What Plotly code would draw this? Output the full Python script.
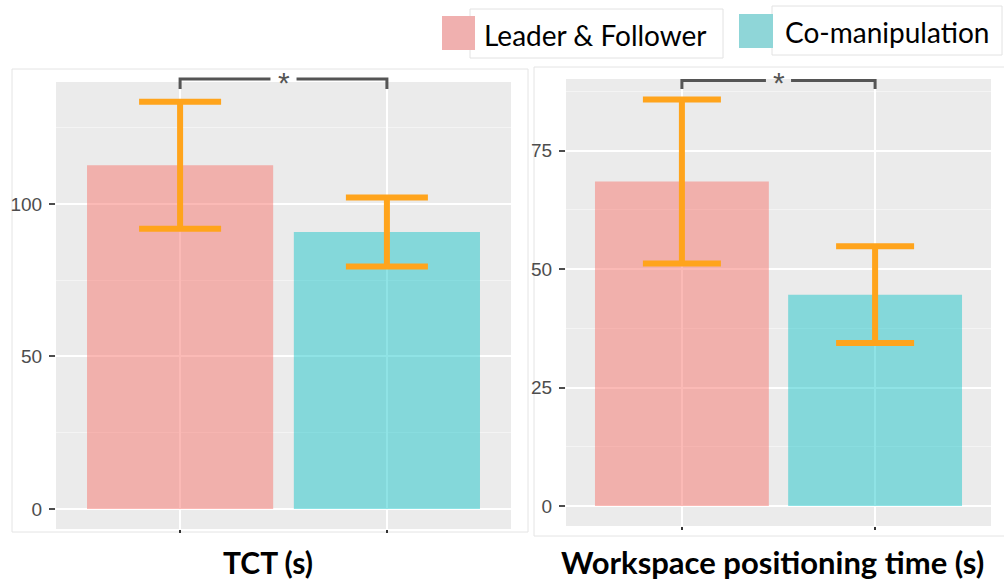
import plotly.graph_objects as go

# ---- data -------------------------------------------------------------
groups = ["Leader & Follower", "Co-manipulation"]
tct_mean = [112.7, 90.8]
tct_err = [20.8, 11.3]
wpt_mean = [68.5, 44.6]
wpt_err = [17.3, 10.2]
panel_titles = ["TCT (s)", "Workspace positioning time (s)"]
tct_ticks = [0, 50, 100]
wpt_ticks = [0, 25, 50, 75]
sig_label = "*"

# ---- style ------------------------------------------------------------
W, H = 1004, 583
bar_fill = ["rgba(248,118,109,0.5)", "rgba(0,191,196,0.44)"]
key_fill = ["#F0B0AF", "#8FD6D8"]
err_color = "#FFA41C"
panel_bg = "#EBEBEB"
tick_font = dict(family="Liberation Sans, Arial, sans-serif", size=19, color="#4D4D4D")


def px_x(v):
    return v / W


def px_y(v):
    return (H - v) / H


fig = go.Figure()

for i, g in enumerate(groups):
    fig.add_trace(go.Bar(
        x=[g], y=[tct_mean[i]], width=0.9,
        marker=dict(color=bar_fill[i], line=dict(width=0)),
        error_y=dict(type="data", array=[tct_err[i]], color=err_color,
                     thickness=6, width=41),
        xaxis="x", yaxis="y", showlegend=False,
    ))
    fig.add_trace(go.Bar(
        x=[g], y=[wpt_mean[i]], width=0.9,
        marker=dict(color=bar_fill[i], line=dict(width=0)),
        error_y=dict(type="data", array=[wpt_err[i]], color=err_color,
                     thickness=6, width=39),
        xaxis="x2", yaxis="y2", showlegend=False,
    ))


def xaxis(domain, anchor):
    return dict(
        domain=domain, anchor=anchor, type="category",
        categoryorder="array", categoryarray=groups,
        range=[-0.6, 1.6], showticklabels=False,
        ticks="outside", ticklen=3, tickwidth=2, tickcolor="#333333",
        showgrid=True, gridcolor="white", gridwidth=2,
        zeroline=False, showline=False, fixedrange=True,
    )


def yaxis(domain, anchor, rng, ticks, minor_step):
    return dict(
        domain=domain, anchor=anchor, range=rng,
        tickmode="array", tickvals=ticks, ticktext=[str(t) for t in ticks],
        ticks="outside", ticklen=6, tickwidth=2, tickcolor="#4D4D4D",
        tickfont=tick_font, ticklabelstandoff=3,
        showgrid=True, gridcolor="white", gridwidth=2,
        minor=dict(dtick=minor_step, tick0=minor_step / 2,
                   showgrid=True, gridcolor="#F4F4F4", gridwidth=1, ticks=""),
        zeroline=False, showline=False, fixedrange=True,
    )


fig.update_layout(
    width=W, height=H,
    margin=dict(l=0, r=0, t=0, b=0),
    paper_bgcolor="white", plot_bgcolor=panel_bg,
    barmode="overlay",
    xaxis=xaxis([px_x(56), px_x(511)], "y"),
    yaxis=yaxis([px_y(529), px_y(82)], "x", [-6.6, 140], tct_ticks, 50),
    xaxis2=xaxis([px_x(566), px_x(991)], "y2"),
    yaxis2=yaxis([px_y(526), px_y(79)], "x2", [-4.2, 90.1], wpt_ticks, 25),
)

shapes = []
annotations = []

# outer frames around each panel
frame_line = dict(color="#E4E4E4", width=1)
shapes.append(dict(type="rect", xref="paper", yref="paper", layer="below",
                   x0=px_x(12), x1=px_x(528), y0=px_y(532), y1=px_y(69),
                   line=frame_line, fillcolor="rgba(0,0,0,0)"))
shapes.append(dict(type="rect", xref="paper", yref="paper", layer="below",
                   x0=px_x(534), x1=px_x(1010), y0=px_y(536), y1=px_y(67),
                   line=frame_line, fillcolor="rgba(0,0,0,0)"))

# significance brackets
bracket = dict(color="#555555", width=3)
for xref, y_top, gap, y_star in [("x", 79, 0.063, 82), ("x2", 80.5, 0.065, 82)]:
    yt, yb = px_y(y_top), px_y(89)
    shapes.append(dict(type="path", xref=xref, yref="paper", line=bracket,
                       path=f"M 0,{yb} L 0,{yt} L {0.5 - gap},{yt}"))
    shapes.append(dict(type="path", xref=xref, yref="paper", line=bracket,
                       path=f"M {0.5 + gap},{yt} L 1,{yt} L 1,{yb}"))
    annotations.append(dict(x=0.5, y=px_y(y_star), xref=xref, yref="paper",
                            text=sig_label, showarrow=False, yanchor="middle",
                            font=dict(family="Liberation Sans, Arial", size=30,
                                      color="#555555")))

# legend keys with boxed labels
key_boxes = [
    dict(box=(470, 723, 9, 58), sq=(442, 475, 16, 50), tx=482, ty=35),
    dict(box=(772, 1002, 6, 55), sq=(739, 773, 14, 48), tx=783, ty=32),
]
for i, k in enumerate(key_boxes):
    bx0, bx1, by0, by1 = k["box"]
    shapes.append(dict(type="rect", xref="paper", yref="paper",
                       x0=px_x(bx0), x1=px_x(bx1), y0=px_y(by1), y1=px_y(by0),
                       line=dict(color="#E2E2E2", width=1), fillcolor="white"))
    sx0, sx1, sy0, sy1 = k["sq"]
    shapes.append(dict(type="rect", xref="paper", yref="paper",
                       x0=px_x(sx0), x1=px_x(sx1), y0=px_y(sy1), y1=px_y(sy0),
                       line=dict(width=0), fillcolor=key_fill[i]))
    annotations.append(dict(x=px_x(k["tx"]), y=px_y(k["ty"]), xref="paper", yref="paper",
                            text=groups[i], showarrow=False,
                            xanchor="left", yanchor="middle",
                            font=dict(family="Lato, Carlito, sans-serif", size=28,
                                      color="black")))

# panel titles under each chart
for title, cx, fs in zip(panel_titles, [267.5, 772.5], [30, 31]):
    annotations.append(dict(x=px_x(cx), y=px_y(562), xref="paper", yref="paper",
                            text=f"<b>{title}</b>", showarrow=False,
                            xanchor="center", yanchor="middle",
                            font=dict(family="Lato, Carlito, sans-serif", size=fs,
                                      color="black")))

fig.update_layout(shapes=shapes, annotations=annotations)
fig.write_html("out.html")
